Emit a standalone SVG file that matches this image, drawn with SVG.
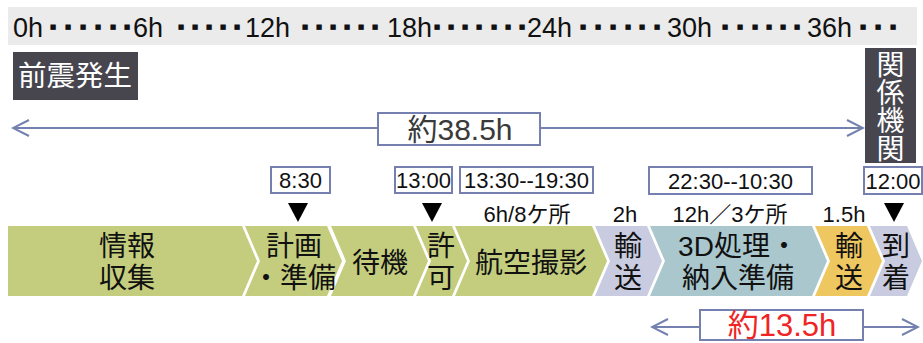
<svg xmlns="http://www.w3.org/2000/svg" width="923" height="343" viewBox="0 0 923 343">
<defs>
<style>
.lat{font-family:"Liberation Sans","Noto Sans CJK JP",sans-serif;fill:#111}
.cjk{font-family:"Noto Sans CJK JP","Liberation Sans",sans-serif;fill:#111}
.tick{font-size:27px}
.dot{font-family:"DejaVu Sans",sans-serif;font-size:7px;fill:#111;text-anchor:middle}
.dark{fill:#47464f}
.tbox{fill:#fff;stroke:#7680b0;stroke-width:2}
.tt{font-size:22px;text-anchor:middle}
.chv{font-size:28px;text-anchor:middle}
.green{fill:#c4cd7d}
.gray{fill:#c9cce0}
.teal{fill:#a9c7cd}
.yel{fill:#efc761}
.conn{stroke:#7480b0;stroke-width:2;fill:none}
</style>
<marker id="ah" viewBox="0 0 20 20" refX="18" refY="10" markerWidth="20" markerHeight="20" markerUnits="userSpaceOnUse" orient="auto-start-reverse">
<path d="M2,2 L18,10 L2,18" fill="none" stroke="#7480b0" stroke-width="2"/>
</marker>
</defs>
<rect width="923" height="343" fill="#fff"/>

<g id="timescale">
<rect x="8" y="7" width="909" height="38" fill="#ebebeb"/>
<text class="lat tick" x="13" y="37">0h</text>
<text class="lat tick" x="133" y="37">6h</text>
<text class="lat tick" x="245" y="37">12h</text>
<text class="lat tick" x="387" y="37">18h</text>
<text class="lat tick" x="527" y="37">24h</text>
<text class="lat tick" x="667" y="37">30h</text>
<text class="lat tick" x="807" y="37">36h</text>
<text class="dot" x="53 68 83 98 113 127" y="28.5">■■■■■■</text>
<text class="dot" x="181 195 209 223 237" y="28.5">■■■■■</text>
<text class="dot" x="305 319 333 347 361 375" y="28.5">■■■■■■</text>
<text class="dot" x="437 451 465 479 494 508 522" y="28.5">■■■■■■■</text>
<text class="dot" x="583 598 613 628 642 657" y="28.5">■■■■■■</text>
<text class="dot" x="725 740 755 769 783 797" y="28.5">■■■■■■</text>
<text class="dot" x="863 878 893" y="28.5">■■■</text>
</g>

<g id="n-foreshock">
<rect class="dark" x="13" y="52" width="125" height="48"/>
<text class="cjk" x="75" y="86" font-size="28.5" text-anchor="middle" style="fill:#fff">前震発生</text>
</g>

<g id="n-agencies">
<rect class="dark" x="865" y="48" width="51" height="115"/>
<text class="cjk" x="890.5" y="50" font-size="28" writing-mode="vertical-rl" style="fill:#fff">関係機関</text>
</g>

<g id="connectors">
<line class="conn" x1="13" y1="128" x2="863" y2="128" marker-start="url(#ah)" marker-end="url(#ah)"/>
<line class="conn" x1="652" y1="327" x2="918" y2="327" marker-start="url(#ah)" marker-end="url(#ah)"/>
</g>

<g id="n-total">
<rect class="tbox" x="378" y="113" width="162" height="32"/>
<text class="lat" x="460" y="140" font-size="30" text-anchor="middle" style="fill:#3a3a3a">約38.5h</text>
</g>

<g id="n-sub">
<rect class="tbox" x="700" y="310" width="163" height="30"/>
<text class="lat" x="782" y="336" font-size="31" text-anchor="middle" style="fill:#f02424">約13.5h</text>
</g>

<g id="times">
<rect class="tbox" x="271" y="167" width="59" height="26"/>
<text class="lat tt" x="300.5" y="188">8:30</text>
<rect class="tbox" x="395" y="167" width="57" height="26"/>
<text class="lat tt" x="423.5" y="188">13:00</text>
<rect class="tbox" x="460" y="167" width="133" height="26"/>
<text class="lat tt" x="526.5" y="188">13:30--19:30</text>
<rect class="tbox" x="649" y="167" width="163" height="27"/>
<text class="lat tt" x="730.5" y="189">22:30--10:30</text>
<rect class="tbox" x="864" y="167" width="58" height="27"/>
<text class="lat tt" x="893" y="189">12:00</text>
<polygon points="288,203 308,203 298,222" fill="#000"/>
<polygon points="422,203 442,203 432,222" fill="#000"/>
<polygon points="884,203 904,203 894,222" fill="#000"/>
<text class="lat tt" x="527" y="222">6h/8ケ所</text>
<text class="lat tt" x="625" y="222">2h</text>
<text class="lat tt" x="730" y="222">12h／3ケ所</text>
<text class="lat tt" x="844" y="222">1.5h</text>
</g>

<g id="s1">
<polygon class="green" points="8,226 242,226 257,261 242,296 8,296"/>
<text class="lat chv"><tspan x="127" y="256">情報</tspan><tspan x="127" y="288">収集</tspan></text>
</g>
<g id="s2">
<polygon class="green" points="245,226 327,226 342,261 327,296 245,296 260,261"/>
<text class="lat chv"><tspan x="294" y="256">計画</tspan><tspan x="294" y="288">・準備</tspan></text>
</g>
<g id="s3">
<polygon class="green" points="331,226 413,226 428,261 413,296 331,296 346,261"/>
<text class="lat chv" x="380" y="273">待機</text>
</g>
<g id="s4">
<polygon class="green" points="416,226 452,226 467,261 452,296 416,296 431,261"/>
<text class="lat chv"><tspan x="441" y="256">許</tspan><tspan x="441" y="288">可</tspan></text>
</g>
<g id="s5">
<polygon class="green" points="455,226 592,226 607,261 592,296 455,296 470,261"/>
<text class="lat chv" x="531" y="273">航空撮影</text>
</g>
<g id="s6">
<polygon class="gray" points="595,226 647,226 662,261 647,296 595,296 610,261"/>
<text class="lat chv"><tspan x="628" y="256">輸</tspan><tspan x="628" y="288">送</tspan></text>
</g>
<g id="s7">
<polygon class="teal" points="650,226 812,226 827,261 812,296 650,296 665,261"/>
<text class="lat chv"><tspan x="738" y="256">3D処理・</tspan><tspan x="738" y="288">納入準備</tspan></text>
</g>
<g id="s8">
<polygon class="yel" points="815,226 867,226 882,261 867,296 815,296 830,261"/>
<text class="lat chv"><tspan x="849" y="256">輸</tspan><tspan x="849" y="288">送</tspan></text>
</g>
<g id="s9">
<polygon class="gray" points="870,226 907,226 922,261 907,296 870,296 885,261"/>
<text class="lat chv"><tspan x="896" y="256">到</tspan><tspan x="896" y="288">着</tspan></text>
</g>
</svg>
